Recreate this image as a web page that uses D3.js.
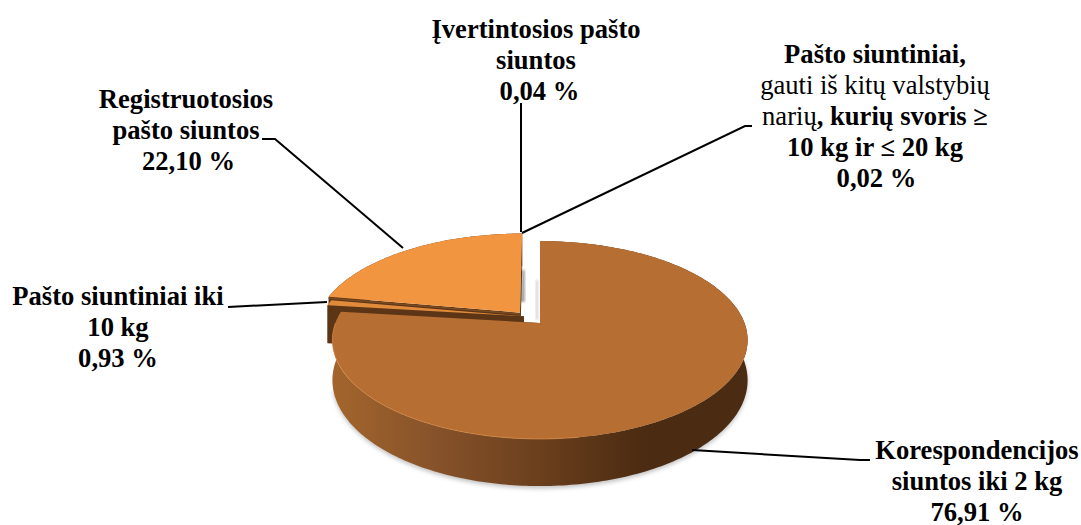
<!DOCTYPE html>
<html>
<head>
<meta charset="utf-8">
<script src="https://cdn.jsdelivr.net/npm/d3@7"></script>
<style>
  html, body { margin: 0; padding: 0; background: #fff; }
  text { font-family: "Liberation Serif", serif; font-size: 26.6px; fill: #000; }
</style>
</head>
<body>
<svg id="chart"></svg>
<script>
// values, clockwise from 12 o'clock
const categories = ["Korespondencijos siuntos iki 2 kg", "Pašto siuntiniai iki 10 kg", "Registruotosios pašto siuntos", "Įvertintosios pašto siuntos", "Pašto siuntiniai, gauti iš kitų valstybių narių, kurių svoris ≥ 10 kg ir ≤ 20 kg"];
const shares = [76.91, 0.93, 22.10, 0.04, 0.02];
const topColors = ["#b66e32", "#e08a3c", "#f29541", "#ffffff", "#ffffff"];

// label text, [string, bold] per run
const labelLines = [
  [[["Korespondencijos", 1]], [["siuntos iki 2 kg", 1]], [["76,91 %", 1]]],
  [[["Pašto siuntiniai iki", 1]], [["10 kg", 1]], [["0,93 %", 1]]],
  [[["Registruotosios", 1]], [["pašto siuntos", 1]], [["22,10 %", 1]]],
  [[["Įvertintosios pašto", 1]], [["siuntos", 1]], [["0,04 %", 1]]],
  [[["Pašto siuntiniai,", 1]], [["gauti iš kitų valstybių", 0]], [["narių", 0], [", kurių svoris ≥", 1]], [["10 kg ir ≤ 20 kg", 1]], [["0,02 %", 1]]]
];

const width = 1081, height = 525;
const center = {x: 540, y: 323};
const R = 204.5, H = 96, k = 0.172, depth = 39;
const lineHeight = 31;

// how far each slice is pulled out, in pie radii
const explode = [[0, 0], [-0.08, -0.07], [-0.1, -0.11], [-0.09, -0.1], [-0.08, -0.1]];
const labelPos = [[977, 459], [118, 305], [186, 108], [536, 38], [875, 63]];
// the percent line sits a little right of centre on some labels
const lastLineShift = [0, 0, 2.5, 3.5, 1.5];
const leaders = [
  [[692, 450], [860, 460], [870, 460]],
  [[327, 302], [228, 307]],
  [[403, 248], [275, 139], [262, 139]],
  [[521, 232], [521, 103]],
  [[522, 233], [745, 126], [752, 126]]
];

const svg = d3.select("#chart").attr("width", width).attr("height", height);
svg.style("display", "block");

const defs = svg.append("defs");
const grad = defs.append("linearGradient").attr("id", "wall")
  .attr("gradientUnits", "userSpaceOnUse")
  .attr("x1", 333).attr("x2", 748).attr("y1", 0).attr("y2", 0);
[[0, "#a3652c"], [0.25, "#86522a"], [0.5, "#6b3f1c"], [0.75, "#4b2b12"], [1, "#4b2b12"]].forEach(s => {
  grad.append("stop").attr("offset", s[0]).attr("stop-color", s[1]);
});
defs.append("filter").attr("id", "blur").append("feGaussianBlur").attr("stdDeviation", 2);
defs.append("filter").attr("id", "blur1").append("feGaussianBlur").attr("stdDeviation", 1);

const arcs = d3.pie().sort(null).value(d => d)(shares);

// unit disc point -> screen, with perspective
function project(u, v, down) {
  const s = 1 / (1 - k * v);
  return [center.x + R * u * s, center.y + H * v * s + (down || 0) * s];
}
function rimPoints(d, i, down) {
  const n = Math.max(2, Math.ceil((d.endAngle - d.startAngle) * 60));
  return d3.range(n + 1).map(j => {
    const a = d.startAngle + (d.endAngle - d.startAngle) * j / n;
    return project(Math.sin(a) + explode[i][0], -Math.cos(a) + explode[i][1], down);
  });
}
const line = d3.line();
const closed = d3.line().curve(d3.curveLinearClosed);

function topPath(d, i) {
  return closed([project(explode[i][0], explode[i][1], 0)].concat(rimPoints(d, i, 0)));
}
function wallPath(d, i) {
  return closed(rimPoints(d, i, 0).concat(rimPoints(d, i, depth).reverse()));
}
function radialPath(d, i, angle) {
  const ex = explode[i];
  const p = [Math.sin(angle) + ex[0], -Math.cos(angle) + ex[1]];
  return closed([project(ex[0], ex[1], 0), project(p[0], p[1], 0), project(p[0], p[1], depth), project(ex[0], ex[1], depth)]);
}

// soft shadow under the front of the big slice
const shadowArc = {startAngle: Math.PI * 0.3, endAngle: Math.PI * 1.42};
svg.append("path")
  .attr("d", closed(rimPoints(shadowArc, 0, depth + 2)))
  .attr("fill", "#9a9a9a")
  .attr("opacity", 0.6)
  .attr("filter", "url(#blur)");

// grey smudges beside the gap, left by the tiny slices
const smudges = [[519, 270, 6, 32, "#a8a8a8"], [536, 280, 2, 40, "#cfcfcf"]];
svg.selectAll("rect.smudge").data(smudges).join("rect")
  .attr("class", "smudge")
  .attr("x", d => d[0]).attr("y", d => d[1])
  .attr("width", d => d[2]).attr("height", d => d[3])
  .attr("fill", d => d[4])
  .attr("filter", "url(#blur1)");

// back to front
[3, 4, 2, 1, 0].forEach(i => {
  const d = arcs[i];
  const g = svg.append("g");
  if (i < 3) {
    g.append("path").attr("d", wallPath(d, i)).attr("fill", i == 0 ? "url(#wall)" : "#5c3516");
    g.append("path").attr("d", radialPath(d, i, d.startAngle)).attr("fill", "#5c3516");
    g.append("path").attr("d", radialPath(d, i, d.endAngle)).attr("fill", "#5c3516");
  }
  g.append("path").attr("d", topPath(d, i)).attr("fill", topColors[i]);
});

// thin dark seam between the two orange slices
svg.append("path")
  .attr("d", line([project(explode[2][0], explode[2][1], 1.5),
    project(Math.sin(arcs[2].startAngle) + explode[2][0], -Math.cos(arcs[2].startAngle) + explode[2][1], 1.5)]))
  .attr("stroke", "#7a4a20").attr("stroke-width", 1.5).attr("fill", "none");

// light bevel on the front edge of the big slice
const bevel = {startAngle: Math.PI * 0.95, endAngle: Math.PI * 1.5};
svg.append("path")
  .attr("d", line(rimPoints(bevel, 0, 0)))
  .attr("fill", "none").attr("stroke", "#d98b47").attr("stroke-width", 1).attr("opacity", 0.7);

svg.selectAll("path.leader").data(leaders).join("path")
  .attr("class", "leader")
  .attr("d", d => line(d))
  .attr("fill", "none").attr("stroke", "#000").attr("stroke-width", 2);

const labels = svg.selectAll("text.label").data(labelLines).join("text")
  .attr("class", "label")
  .attr("text-anchor", "middle")
  .attr("transform", (d, i) => `translate(${labelPos[i][0]},${labelPos[i][1]})`);

labels.each(function (lines, n) {
  const t = d3.select(this);
  lines.forEach((runs, li) => {
    runs.forEach((r, ri) => {
      const sp = t.append("tspan")
        .attr("font-weight", r[1] ? "bold" : "normal")
        .text(r[0]);
      if (ri == 0) sp.attr("x", li == lines.length - 1 ? lastLineShift[n] : 0).attr("y", li * lineHeight);
    });
  });
});
</script>
</body>
</html>
